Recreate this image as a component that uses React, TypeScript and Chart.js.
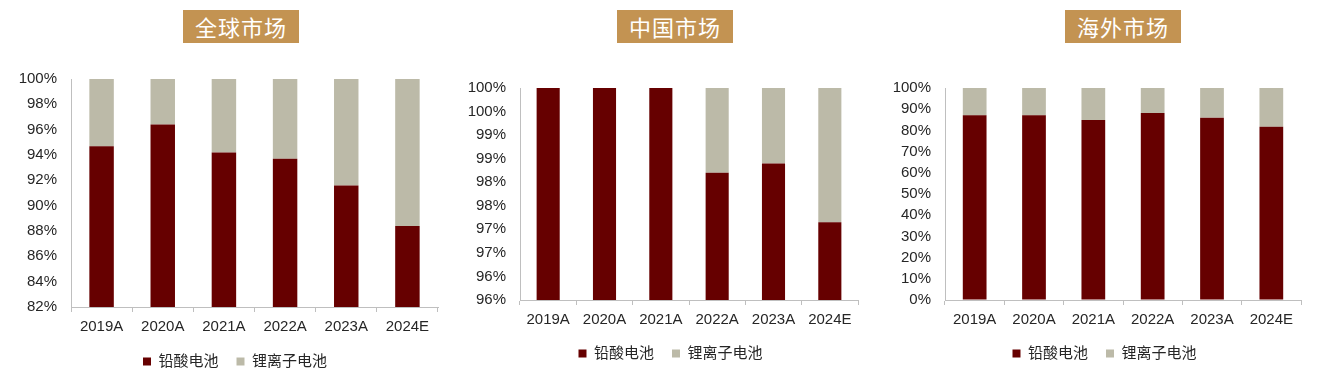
import React, { useEffect, useRef } from "react";
import { Chart, registerables } from "chart.js";

Chart.register(...registerables);

const categories = ["2019A", "2020A", "2021A", "2022A", "2023A", "2024E"];
const seriesNames = ["铅酸电池", "锂离子电池"];
const titles = ["全球市场", "中国市场", "海外市场"];

const globalLead = [94.7, 96.4, 94.2, 93.7, 91.6, 88.4];
const globalLithium = [5.3, 3.6, 5.8, 6.3, 8.4, 11.6];
const chinaLead = [100, 100, 100, 98.2, 98.4, 97.15];
const chinaLithium = [0, 0, 0, 1.8, 1.6, 2.85];
const overseasLead = [87.1, 87.1, 84.9, 88.2, 86.0, 81.7];
const overseasLithium = [12.9, 12.9, 15.1, 11.8, 14.0, 18.3];

const globalAxis = [82, 100, 2];
const chinaAxis = [95.5, 100, 0.5];
const overseasAxis = [0, 100, 10];

const LEAD_COLOR = "#660000";
const LI_COLOR = "#BCBAA8";
const AXIS_COLOR = "#BFBFBF";
const TEXT_COLOR = "#262626";
const FONT = "'Liberation Sans', Arial, 'Noto Sans CJK SC', sans-serif";

type Panel = {
  title: string;
  lead: number[];
  lithium: number[];
  axis: number[];
  left: number;
  width: number;
  height: number;
  padR: number;
  padT: number;
  yW: number;
  xH: number;
  barPct: number;
  titleLeft: number;
  legendDx: number;
};

const panels: Panel[] = [
  { title: titles[0], lead: globalLead, lithium: globalLithium, axis: globalAxis, left: 0, width: 440, height: 319, padR: 2, padT: 19, yW: 71, xH: 29, barPct: 0.4, titleLeft: 183, legendDx: 16 },
  { title: titles[1], lead: chinaLead, lithium: chinaLithium, axis: chinaAxis, left: 440, width: 440, height: 311, padR: 22, padT: 28, yW: 80, xH: 28, barPct: 0.41, titleLeft: 617, legendDx: 21.5 },
  { title: titles[2], lead: overseasLead, lithium: overseasLithium, axis: overseasAxis, left: 877, width: 440, height: 311, padR: 16, padT: 28, yW: 68, xH: 28, barPct: 0.4, titleLeft: 1065, legendDx: 15.5 },
];

const legendShift = {
  id: "legendShift",
  afterLayout(chart: any, _args: any, opts: any) {
    const lg = chart.legend;
    if (!lg || !opts || !opts.dx) return;
    lg.left += opts.dx;
    lg.right += opts.dx;
  },
};

function PanelChart({ p }: { p: Panel }) {
  const ref = useRef<HTMLCanvasElement | null>(null);
  useEffect(() => {
    if (!ref.current) return;
    const chart = new Chart(ref.current, {
      type: "bar",
      plugins: [legendShift],
      data: {
        labels: categories,
        datasets: [
          { label: seriesNames[0], data: p.lead, backgroundColor: LEAD_COLOR, barPercentage: p.barPct, categoryPercentage: 1 },
          { label: seriesNames[1], data: p.lithium, backgroundColor: LI_COLOR, barPercentage: p.barPct, categoryPercentage: 1 },
        ],
      },
      options: {
        animation: false,
        responsive: false,
        maintainAspectRatio: false,
        layout: { padding: { left: 0, right: p.padR, top: p.padT, bottom: 0 } },
        plugins: {
          tooltip: { enabled: false },
          title: { display: false },
          legendShift: { dx: p.legendDx },
          legend: {
            position: "bottom",
            labels: {
              boxWidth: 8,
              boxHeight: 8,
              padding: 18,
              color: TEXT_COLOR,
              font: { family: FONT, size: 15 },
            },
          },
        } as any,
        scales: {
          x: {
            stacked: true,
            afterFit: (s: any) => { s.height = p.xH; },
            grid: { display: true, drawOnChartArea: false, drawTicks: true, tickLength: 5, color: AXIS_COLOR, offset: true },
            border: { display: true, color: AXIS_COLOR, width: 1 },
            ticks: { color: TEXT_COLOR, font: { family: FONT, size: 15 }, padding: 6, maxRotation: 0, autoSkip: false },
          },
          y: {
            stacked: true,
            min: p.axis[0],
            max: p.axis[1],
            afterFit: (s: any) => { s.width = p.yW; s.paddingTop = 0; s.paddingBottom = 0; },
            grid: { display: true, drawOnChartArea: false, drawTicks: false, color: AXIS_COLOR },
            border: { display: true, color: AXIS_COLOR, width: 1 },
            ticks: {
              stepSize: p.axis[2],
              padding: 14,
              color: TEXT_COLOR,
              font: { family: FONT, size: 15 },
              callback: (v: any) => Math.round(Number(v)) + "%",
            },
          },
        },
      },
    });
    return () => chart.destroy();
  }, [p]);
  return (
    <canvas
      ref={ref}
      width={p.width}
      height={p.height}
      style={{ position: "absolute", left: p.left, top: 60, width: p.width, height: p.height }}
    />
  );
}

export default function App() {
  return (
    <div style={{ position: "absolute", left: 0, top: 0, width: 1317, height: 375, overflow: "hidden", background: "#fff" }}>
      {panels.map((p) => (
        <div
          key={p.title + "t"}
          style={{
            position: "absolute",
            left: p.titleLeft,
            top: 10,
            width: 116,
            height: 33,
            background: "#C39352",
            color: "#fff",
            fontFamily: "'Noto Sans CJK SC', sans-serif",
            fontSize: 22,
            lineHeight: "33px",
            textAlign: "center",
            letterSpacing: 1,
          }}
        >
          {p.title}
        </div>
      ))}
      {panels.map((p) => (
        <PanelChart key={p.title} p={p} />
      ))}
    </div>
  );
}
